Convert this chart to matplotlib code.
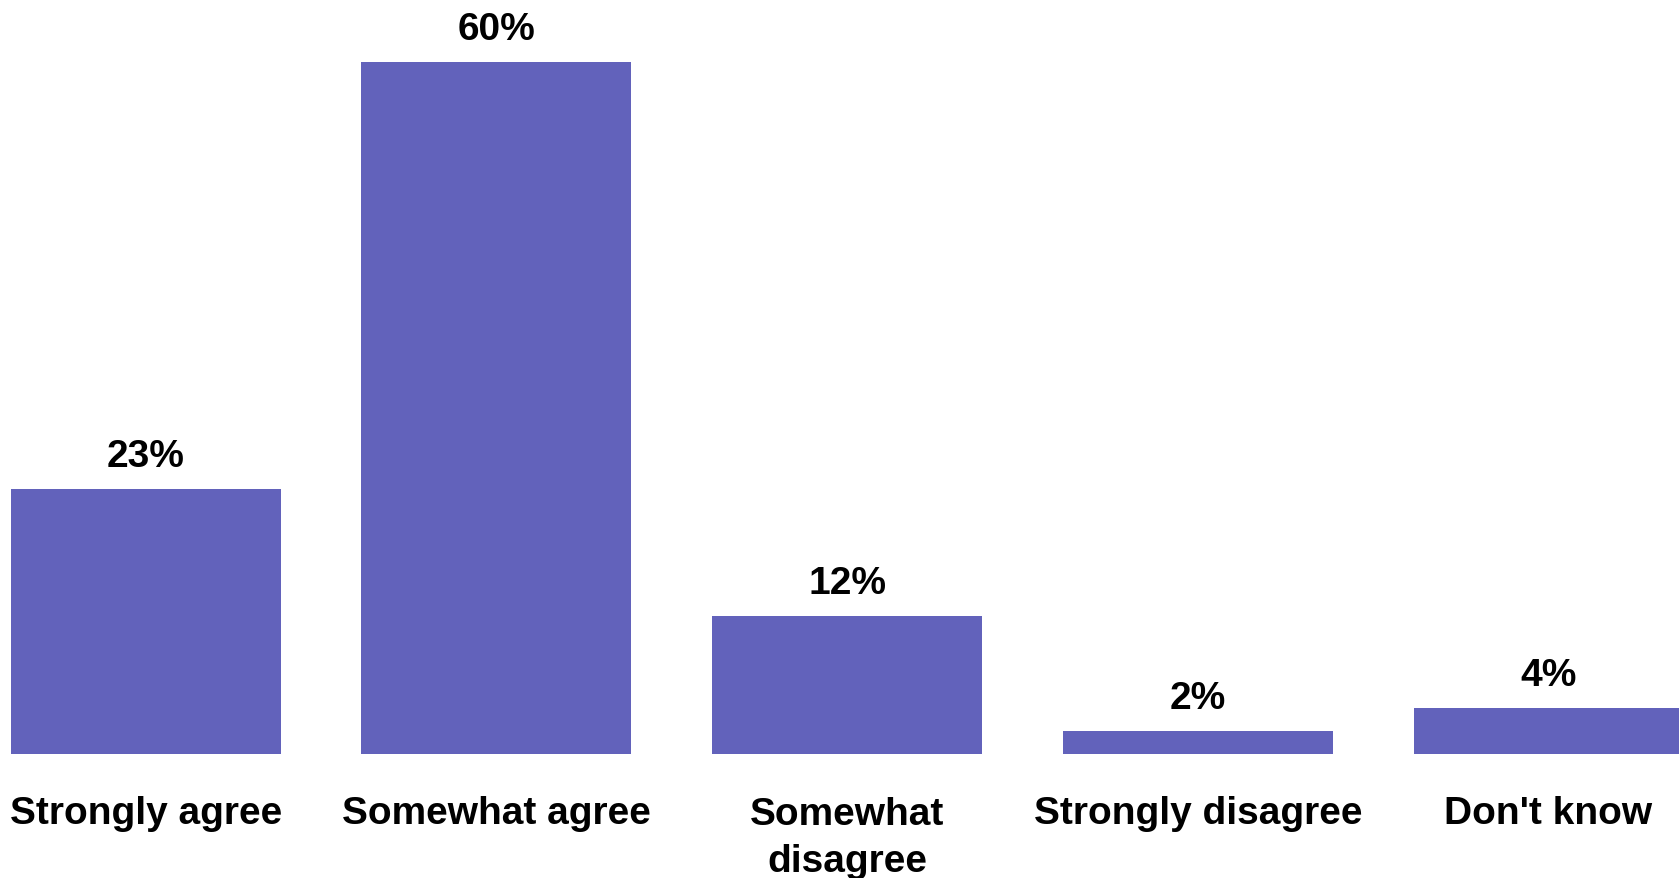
import matplotlib
matplotlib.use("Agg")
import matplotlib.pyplot as plt

categories = ["Strongly agree", "Somewhat agree", "Somewhat\ndisagree",
              "Strongly disagree", "Don't know"]
shares = [23, 60, 12, 2, 4]

plt.rcParams['font.family'] = ['Liberation Sans', 'DejaVu Sans']

fig = plt.figure(figsize=(16.79, 8.79), dpi=100)
ax = fig.add_axes([0, 0, 1, 1])

px_per_pct = 692 / 60
line_px = 48
xs = range(len(categories))
ax.bar(xs, shares, width=0.77, color="#6262BB", linewidth=0)

for x, v, name in zip(xs, shares, categories):
    ax.annotate(f"{v}%", (x, v), xytext=(0, 23), textcoords="offset pixels",
                ha="center", va="baseline", fontsize=28, fontweight="bold")
    # baseline alignment uses the last line, so push wrapped labels down
    extra = line_px * name.count("\n")
    ax.annotate(name, (x, 0), xytext=(0, -69 - extra), textcoords="offset pixels",
                ha="center", va="baseline", fontsize=28, fontweight="bold",
                linespacing=1.41, annotation_clip=False)

ax.set_xlim(-0.4155, 4.372)
ax.set_ylim(-124 / px_per_pct, 755 / px_per_pct)
ax.axis("off")

fig.savefig("out.png", dpi=100, facecolor="white")
